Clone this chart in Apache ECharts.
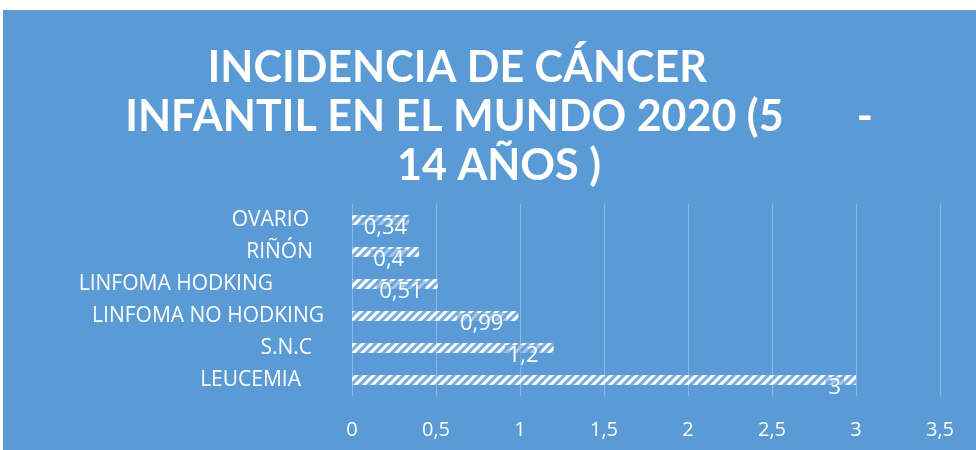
<!DOCTYPE html>
<html><head><meta charset="utf-8">
<script src="https://cdn.jsdelivr.net/npm/echarts@6/dist/echarts.min.js"></script>
<style>html,body{margin:0;padding:0;background:#fff}#c{width:976px;height:450px}</style>
</head><body><div id="c"></div>
<script>
var categories = ['LEUCEMIA','S.N.C','LINFOMA NO HODKING','LINFOMA HODKING','RIÑÓN','OVARIO'];
var values = [3, 1.2, 0.99, 0.51, 0.4, 0.34];
var labelPad = [23, 12, 0, 51, 11, 15];
var labelShift = [0, 0, 0, 0, 0, 13];
var xTicks = [0,0.5,1,1.5,2,2.5,3,3.5];
var chart = echarts.init(document.getElementById('c'));
var fmt = function(v){return String(v).replace('.',',');};
chart.setOption({
  backgroundColor:'transparent',
  animation:false,
  graphic:[{type:'rect',z:-10,shape:{x:3,y:10,width:973,height:440},style:{fill:'#5B9BD5'}}],
  title:{text:'INCIDENCIA DE CÁNCER        \nINFANTIL EN EL MUNDO 2020 (5       -\n14 AÑOS )',left:494,textAlign:'center',top:39,
    textStyle:{color:'#fff',fontFamily:'Lato',fontWeight:'bold',fontSize:43,lineHeight:49}},
  grid:{left:352,right:36,top:204,bottom:54},
  xAxis:{type:'value',min:0,max:3.5,interval:0.5,
    axisLine:{show:false},axisTick:{show:false},
    splitLine:{show:true,lineStyle:{color:'rgba(255,255,255,0.3)',width:1}},
    axisLabel:{color:'#fff',fontFamily:'Open Sans',fontSize:20,margin:24,formatter:function(v){return fmt(v);}}},
  yAxis:{type:'category',data:categories.map(function(c,i){return {value:c,textStyle:{padding:[0,labelPad[i],0,0]}};}),
    axisLine:{show:false},axisTick:{show:false},
    axisLabel:{color:'#fff',fontFamily:'Open Sans',fontSize:21,margin:28}},
  series:[{type:'bar',barWidth:10,
    data:values.map(function(v,i){return {value:v,label:{offset:[labelShift[i],8]}};}),
    itemStyle:{color:'rgba(255,255,255,0.18)',decal:{symbol:'rect',color:'#fff',dashArrayX:[1,0],dashArrayY:[3,3],rotation:-Math.PI/4,symbolSize:1}},
    label:{show:true,position:'insideRight',distance:12,offset:[0,8],color:'#fff',fontFamily:'Open Sans',fontSize:22,
      backgroundColor:'rgba(91,155,213,0.55)',padding:[0,3],
      formatter:function(p){return fmt(p.value);}}}]
});
</script></body></html>
